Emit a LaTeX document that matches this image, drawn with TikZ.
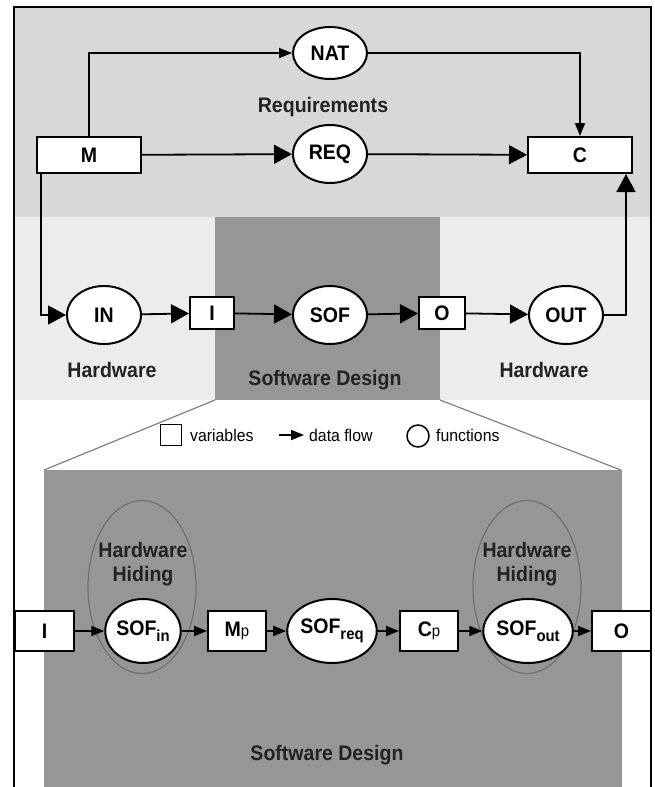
\documentclass[tikz,border=0pt]{standalone}
\usepackage{fontspec}
\setmainfont[FakeStretch=0.93]{Liberation Sans}
\usetikzlibrary{arrows.meta,positioning,shapes.geometric}
\definecolor{reqgray}{RGB}{216,216,216}
\definecolor{hwgray}{RGB}{236,236,236}
\definecolor{swgray}{RGB}{150,150,150}
\definecolor{hidegray}{RGB}{112,112,112}
\definecolor{lblgray}{RGB}{34,34,34}
\newcommand{\lowsub}[1]{\raisebox{-6pt}{\fontsize{16}{16}\selectfont #1}}
\newcommand{\smallp}{{\fontsize{16}{16}\selectfont\mdseries p}}

\begin{document}
\begin{tikzpicture}[x=1pt,y=-1pt,font=\fontsize{21}{24}\selectfont\bfseries,
  varbox/.style={draw,fill=white,line width=2pt,inner sep=0pt},
  funnode/.style={ellipse,draw,fill=white,line width=2pt,inner sep=0pt,minimum width=74pt,minimum height=58pt},
  flowbig/.style={-{Triangle[length=18pt,width=19pt]},line width=1.8pt},
  flowsmall/.style={-{Triangle[length=13pt,width=10pt]},line width=1.8pt},
  lbl/.style={text=lblgray,align=center},
  legend/.style={font=\fontsize{17}{20}\selectfont,inner sep=0pt,anchor=west},
  hidering/.style={ellipse,draw=hidegray,line width=1.2pt,inner sep=0pt}]
  \useasboundingbox (0,0) rectangle (654,787);
  % backgrounds
  \fill[reqgray] (14,7) rectangle (651,217);
  \fill[hwgray] (14,217) rectangle (651,400);
  \fill[swgray] (215,217) rectangle (440,400);
  \draw[swgray!85!black,line width=1.2pt] (215,400) -- (44,470) (440,400) -- (621,470);
  \fill[swgray] (44,470) rectangle (622,787);
  \draw[line width=2pt] (14,787) -- (14,7) -- (651,7) -- (651,787);

  % requirements
  \node[varbox,minimum width=104pt,minimum height=36pt] (M) at (89,155) {M};
  \node[varbox,minimum width=104pt,minimum height=36pt] (C) at (580,155) {C};
  \node[funnode,minimum height=52pt] (NAT) at (330,53) {NAT};
  \node[funnode] (REQ) at (330,154) {REQ};
  \node[lbl] (reqlbl) at (323,107) {Requirements};
  \draw[flowsmall] (M.north) |- (NAT.west);
  \draw[flowsmall] (NAT.east) -| (C.north);
  \draw[flowbig] (M) -- (REQ);
  \draw[flowbig] (REQ) -- (C);

  % hardware / software
  \node[funnode] (IN) at (104,315) {IN};
  \node[varbox,minimum width=44pt,minimum height=32pt] (I) at (212,313) {I};
  \node[funnode] (SOF) at (330,315) {SOF};
  \node[varbox,minimum width=46pt,minimum height=32pt] (O) at (442,313) {O};
  \node[funnode] (OUT) at (566,315) {OUT};
  \node[lbl] (hwleft) at (112,370) {Hardware};
  \node[lbl] (swtop) at (325,380) {Software Design};
  \node[lbl] (hwright) at (544,370) {Hardware};
  \draw[flowbig] ([xshift=5pt]M.south west) |- (IN.west);
  \draw[flowbig] (IN) -- (I);
  \draw[flowbig] (I) -- (SOF);
  \draw[flowbig] (SOF) -- (O);
  \draw[flowbig] (O) -- (OUT);
  \draw[flowbig] (OUT.east) -| ([xshift=-7pt]C.south east);

  % legend
  \node[draw,line width=1.5pt,minimum size=21pt,inner sep=0pt] (legvar) at (171,435) {};
  \node[legend] (legvartxt) at (190,435) {variables};
  \coordinate (flowa) at (279,435);
  \coordinate (flowb) at (304,435);
  \draw[flowsmall] (flowa) -- (flowb);
  \node[legend] (legflowtxt) at (309,435) {data flow};
  \node[circle,draw,line width=1.5pt,minimum size=22pt,inner sep=0pt] (legfun) at (418,436) {};
  \node[legend] (legfuntxt) at (436,435) {functions};

  % software design detail
  \node[hidering,minimum width=108pt,minimum height=173pt] (hidein) at (142,587) {};
  \node[hidering,minimum width=108pt,minimum height=173pt] (hideout) at (527,587) {};
  \node[lbl] (hidetxtin) at (143,564) {Hardware\\Hiding};
  \node[lbl] (hidetxtout) at (527,564) {Hardware\\Hiding};
  \node[varbox,minimum width=59pt,minimum height=40pt] (Iin) at (44.5,631) {I};
  \node[funnode,minimum height=64pt] (SOFin) at (143,631) {SOF\lowsub{in}};
  \node[varbox,minimum width=58pt,minimum height=40pt] (Mp) at (237,631) {M\smallp};
  \node[funnode,minimum height=64pt] (SOFreq) at (332,631) {SOF\lowsub{req}};
  \node[varbox,minimum width=58pt,minimum height=40pt] (Cp) at (429,631) {C\smallp};
  \node[funnode,minimum height=64pt] (SOFout) at (528,631) {SOF\lowsub{out}};
  \node[varbox,minimum width=59pt,minimum height=40pt] (Oout) at (621.5,631) {O};
  \draw[flowsmall] (Iin) -- (SOFin);
  \draw[flowsmall] (SOFin) -- (Mp);
  \draw[flowsmall] (Mp) -- (SOFreq);
  \draw[flowsmall] (SOFreq) -- (Cp);
  \draw[flowsmall] (Cp) -- (SOFout);
  \draw[flowsmall] (SOFout) -- (Oout);
  \node[lbl] (swbottom) at (327,755) {Software Design};
\end{tikzpicture}
\end{document}
